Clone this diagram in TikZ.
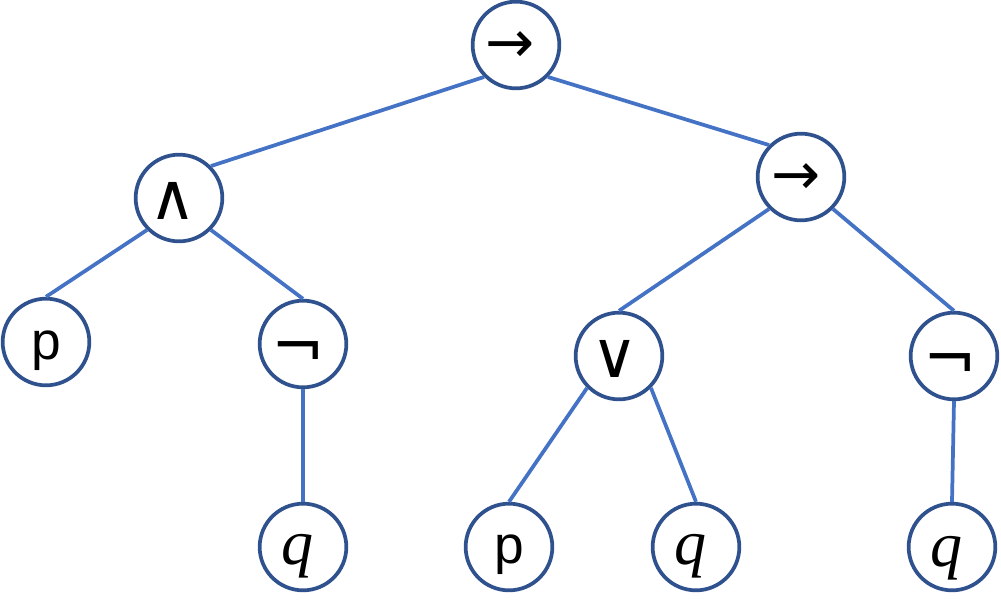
\documentclass[tikz,border=0pt]{standalone}
\usepackage{fontspec}
\newfontfamily\lsans{Liberation Sans}
\newfontfamily\dvsans{DejaVu Sans}
\newfontfamily\lserif{Liberation Serif}
\definecolor{ring}{HTML}{2F528F}
\definecolor{edge}{HTML}{4472C4}
\tikzset{
  vert/.style={circle, draw=ring, line width=2.8pt, fill=white, minimum size=65pt, inner sep=0pt},
  sym/.style={inner sep=0pt, font=\lsans\fontsize{40}{44}\selectfont},
  arr/.style={inner sep=0pt, font=\dvsans\fontsize{44}{48}\selectfont},
  opsym/.style={inner sep=0pt, font=\dvsans\fontsize{48}{52}\selectfont},
  var/.style={inner sep=0pt, font=\lserif\itshape\fontsize{48}{52}\selectfont},
  conn/.style={draw=edge, line width=2.8pt},
}
\begin{document}
\begin{tikzpicture}[x=0.75pt, y=-0.75pt]
\useasboundingbox (0,0) rectangle (1001,608);
% vertices
\node[vert] (r)  at (516,45)  {};
\node[vert] (a)  at (179,198) {};
\node[vert] (r2) at (801,177) {};
\node[vert] (p1) at (46,342)  {};
\node[vert] (n1) at (303,344) {};
\node[vert] (o)  at (619,356) {};
\node[vert] (n2) at (954,356) {};
\node[vert] (q1) at (303,547) {};
\node[vert] (p2) at (509,547) {};
\node[vert] (q2) at (696,547) {};
\node[vert] (q3) at (952,547) {};
% edges
\draw[conn] (r.225) -- (a.45);
\draw[conn] (r.315) -- (r2.135);
\draw[conn] (a.225) -- (p1.north);
\draw[conn] (a.315) -- (n1.north);
\draw[conn] (n1.south) -- (q1.north);
\draw[conn] (r2.225) -- (o.north);
\draw[conn] (r2.315) -- (n2.north);
\draw[conn] (o.225) -- (p2.north);
\draw[conn] (o.315) -- (q2.north);
\draw[conn] (n2.south) -- (q3.north);
% labels
\node[arr] (tr)  at (510,47)  {→};
\node[opsym] (ta) at (173,201) {∧};
\node[arr] (tr2) at (796,179) {→};
\node[sym] (tp1) at (46,351)  {p};
\node[opsym] (tn1) at (298,355) {¬};
\node[opsym] (to) at (615,359) {∨};
\node[opsym] (tn2) at (950,367) {¬};
\node[var] (tq1) at (297,556) {q};
\node[sym] (tp2) at (509,555) {p};
\node[var] (tq2) at (690,556) {q};
\node[var] (tq3) at (946,558) {q};
\end{tikzpicture}
\end{document}
